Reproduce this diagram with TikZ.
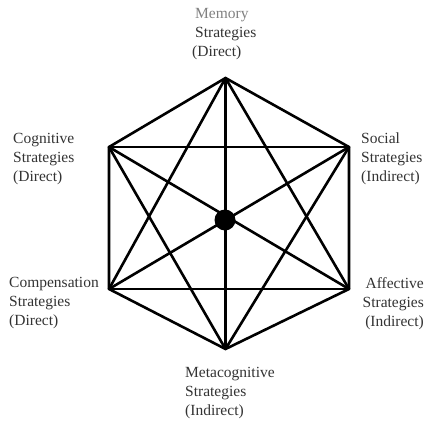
\documentclass[tikz,border=0pt]{standalone}
\usepackage{fontspec}
\setmainfont{Liberation Serif}
\usetikzlibrary{positioning}
\definecolor{labelgray}{rgb}{0.2,0.2,0.2}
\definecolor{lightlabel}{rgb}{0.5,0.5,0.5}
\tikzset{
	link/.style={line width=2.6pt, line cap=round, line join=round},
	label text/.style={inner sep=0pt, align=left, text=labelgray,
		font=\fontsize{15.5}{19}\selectfont},
}

\begin{document}
\begin{tikzpicture}[x=1pt,y=-1pt]
		\useasboundingbox (0,0) rectangle (428,429);

		\coordinate (mem) at (225.5,78);
		\coordinate (soc) at (349,147);
		\coordinate (aff) at (349,289);
		\coordinate (meta) at (225.5,349);
		\coordinate (comp) at (109,289);
		\coordinate (cog) at (109,147);

		\draw[link] (mem) -- (soc) -- (aff) -- (meta) -- (comp) -- (cog) -- cycle;
		\draw[link] (mem) edge (aff) (mem) edge (meta) (mem) edge (comp)
		(soc) edge (meta) (soc) edge (comp) (soc) edge (cog)
		(aff) edge (comp) (aff) edge (cog)
		(meta) edge (cog);

		\node[circle, fill=black, inner sep=0pt, minimum size=21pt] (core) at (225,220) {};

		\node[label text, anchor=north west] (memtext) at (192,8)
			{\textcolor{lightlabel}{\hspace*{3pt}Memory}\\\hspace*{3pt}Strategies\\(Direct)};
		\node[label text, anchor=north west] (cogtext) at (13,133)
			{Cognitive\\Strategies\\(Direct)};
		\node[label text, anchor=north west] (soctext) at (361,133)
			{Social\\Strategies\\(Indirect)};
		\node[label text, anchor=north west] (comptext) at (9,277)
			{Compensation\\Strategies\\(Direct)};
		\node[label text, anchor=north east, align=right] (afftext) at (424,277)
			{Affective\\Strategies\\(Indirect)};
		\node[label text, anchor=north west] (metatext) at (185,367)
			{Metacognitive\\Strategies\\(Indirect)};
	\end{tikzpicture}
\end{document}
